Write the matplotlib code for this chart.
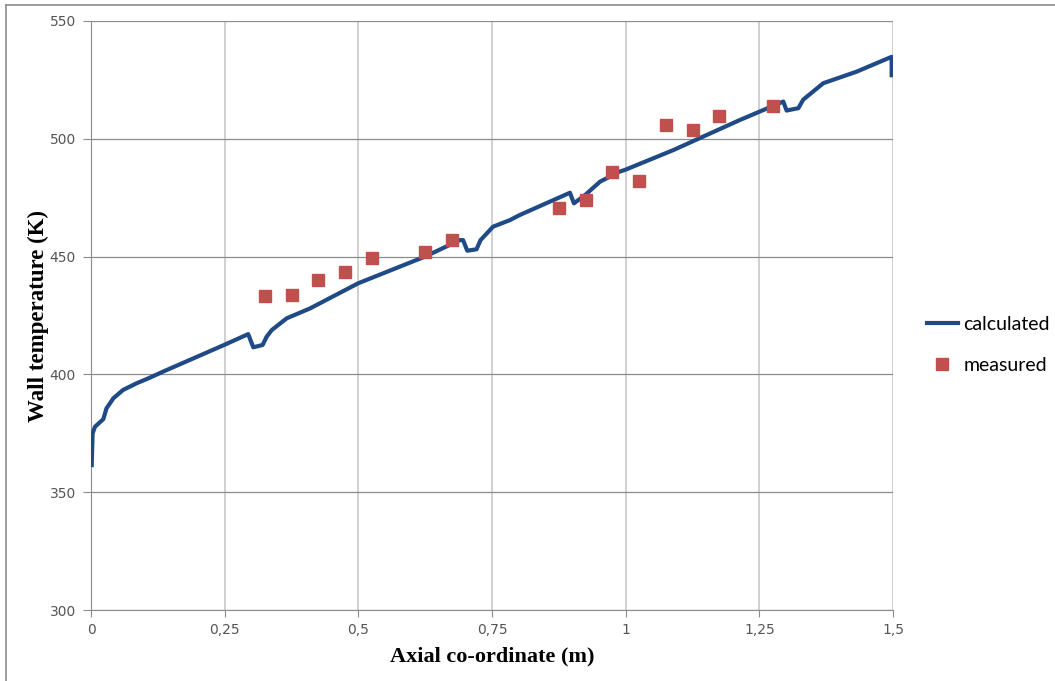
import numpy as np
import matplotlib.pyplot as plt
from matplotlib.lines import Line2D

# calculated wall temperature along the tube
calc_x = [0.0013, 0.003, 0.0075, 0.023, 0.029, 0.042, 0.060, 0.085, 0.110, 0.135,
          0.249, 0.294, 0.3035, 0.321, 0.3285, 0.338, 0.366, 0.4096, 0.500, 0.6247,
          0.690, 0.696, 0.7037, 0.721, 0.7286, 0.752, 0.7836, 0.8023, 0.8958, 0.9033,
          0.924, 0.952, 0.989, 0.9987, 1.089, 1.2138, 1.2948, 1.301, 1.323, 1.332,
          1.3696, 1.432, 1.4975, 1.4975]
calc_T = [361.5, 375.0, 377.8, 381.0, 385.6, 389.9, 393.4, 396.2, 398.6, 401.2,
          412.5, 417.1, 411.5, 412.5, 416.0, 418.8, 423.8, 428.0, 438.7, 450.0,
          457.0, 457.0, 452.5, 453.1, 457.0, 462.7, 465.5, 467.7, 477.1, 472.6,
          476.1, 481.8, 486.1, 486.8, 495.2, 508.0, 515.8, 512.0, 513.0, 516.6,
          523.6, 528.5, 534.8, 527.0]

# measured points
meas_x = [0.325, 0.375, 0.425, 0.475, 0.525, 0.625, 0.675, 0.875, 0.925, 0.975,
          1.025, 1.075, 1.125, 1.175, 1.275]
meas_T = [433.3, 433.7, 440.1, 443.5, 449.4, 452.0, 457.0, 470.6, 474.0, 485.9,
          482.1, 505.9, 503.7, 509.7, 513.9]

xticks = [0, 0.25, 0.5, 0.75, 1, 1.25, 1.5]
xtick_labels = ['0', '0,25', '0,5', '0,75', '1', '1,25', '1,5']
yticks = [300, 350, 400, 450, 500, 550]

fig = plt.figure(figsize=(10.55, 6.81), dpi=100)
ax = fig.add_axes([91/1055, 1-610/681, 802/1055, 589/681])

ax.plot(calc_x, calc_T, color='#1f4a86', lw=3, solid_joinstyle='round',
        label='calculated', zorder=3)
ax.plot(meas_x, meas_T, 's', color='#c0504d', ms=8.5, label='measured', zorder=4)

ax.set_xlim(0, 1.5)
ax.set_ylim(300, 550)
ax.set_xticks(xticks)
ax.set_xticklabels(xtick_labels)
ax.set_yticks(yticks)
ax.grid(True, axis='y', color='#8c8c8c', lw=0.9)
ax.grid(True, axis='x', color='#c8c8c8', lw=1.2)
ax.set_axisbelow(True)

for s in ['top', 'right']:
    ax.spines[s].set_visible(False)
for s in ['left', 'bottom']:
    ax.spines[s].set_color('#8c8c8c')
ax.tick_params(axis='y', length=6, color='#8c8c8c', labelsize=10, labelcolor='#555555', pad=5)
ax.tick_params(axis='x', length=5, color='#8c8c8c', labelsize=10, labelcolor='#555555', pad=4)
for lab in ax.get_xticklabels() + ax.get_yticklabels():
    lab.set_family('Liberation Sans Narrow')

ax.set_xlabel('Axial co-ordinate (m)', family='Liberation Serif', weight='bold',
              fontsize=16, labelpad=7)
ax.set_ylabel('Wall temperature (K)', family='Liberation Serif', weight='bold',
              fontsize=16.5, labelpad=0)

leg = ax.legend(loc='center left', bbox_to_anchor=(1.02, 0.45), frameon=False,
                prop={'family': 'Lato', 'size': 14}, handlelength=1.6,
                handletextpad=0.3, labelspacing=1.2)

# thin frame around the chart (top and left visible)
fig.add_artist(Line2D([6/1055, 1], [1-5/681, 1-5/681], color='#8c8c8c', lw=1.2))
fig.add_artist(Line2D([6/1055, 6/1055], [0, 1-5/681], color='#8c8c8c', lw=1.2))

fig.savefig('out.png', dpi=100)
